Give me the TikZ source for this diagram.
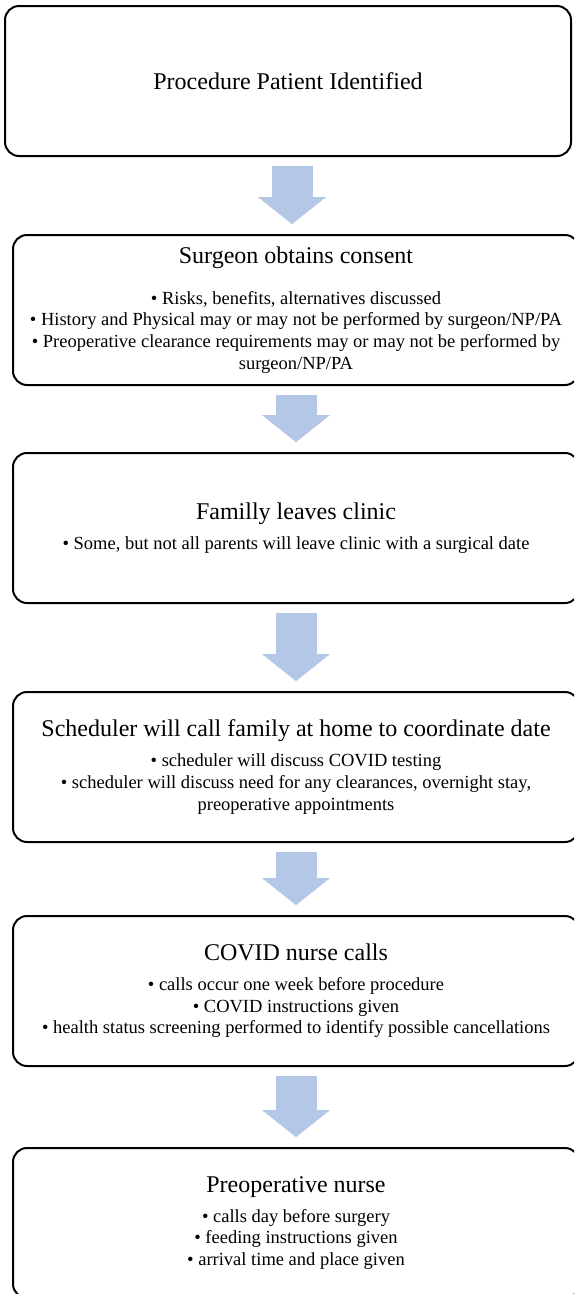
\documentclass[tikz,border=0pt]{standalone}
\usepackage{fontspec}
\setmainfont{Liberation Serif}
\usetikzlibrary{positioning, arrows.meta, calc}
\definecolor{arrowblue}{RGB}{180,199,231}

\newcommand{\steptitle}[1]{{\fontsize{24}{26}\selectfont #1}}

\tikzset{
    stepbox/.style={draw, line width=2pt, rounded corners=14pt, minimum width=566pt,
        minimum height=150pt, align=center, inner sep=0pt,
        font=\fontsize{18.5}{21.7}\selectfont},
    flowarrow/.style={arrowblue, line width=41pt,
        -{Triangle[width=68pt, length=27pt, line width=0.1pt]},
        shorten <=9pt, shorten >=10pt}
}

\begin{document}
\begin{tikzpicture}[x=1pt, y=1pt]
        \clip (0,0) rectangle (574,-1294);

        \node[stepbox] (identified) at (288,-81) {\steptitle{Procedure Patient Identified}};
        \node[stepbox, below=77pt of identified, xshift=8pt] (consent) {\steptitle{Surgeon obtains consent}\\[19pt]
            • Risks, benefits, alternatives discussed\\
            • History and Physical may or may not be performed by surgeon/NP/PA\\
            • Preoperative clearance requirements may or may not be performed by\\
            surgeon/NP/PA};
        \node[stepbox, below=66pt of consent] (leaves) {\steptitle{Familly leaves clinic}\\[8pt]
            • Some, but not all parents will leave clinic with a surgical date};
        \node[stepbox, below=87pt of leaves] (scheduler) {\steptitle{Scheduler will call family at home to coordinate date}\\[8pt]
            • scheduler will discuss COVID testing\\
            • scheduler will discuss need for any clearances, overnight stay,\\
            preoperative appointments};
        \node[stepbox, below=72pt of scheduler] (covid) {\steptitle{COVID nurse calls}\\[8pt]
            • calls occur one week before procedure\\
            • COVID instructions given\\
            • health status screening performed to identify possible cancellations};
        \node[stepbox, below=80pt of covid] (preop) {\steptitle{Preoperative nurse}\\[8pt]
            • calls day before surgery\\
            • feeding instructions given\\
            • arrival time and place given};

        % block arrows between the steps
        \coordinate (m1) at ($(identified.south)!0.5!(consent.north)$);
        \draw[flowarrow] (identified.south -| m1) -- (consent.north -| m1);
        \draw[flowarrow] (consent.south) -- (leaves.north);
        \draw[flowarrow] (leaves.south) -- (scheduler.north);
        \draw[flowarrow] (scheduler.south) -- (covid.north);
        \draw[flowarrow] (covid.south) -- (preop.north);
\end{tikzpicture}
\end{document}
